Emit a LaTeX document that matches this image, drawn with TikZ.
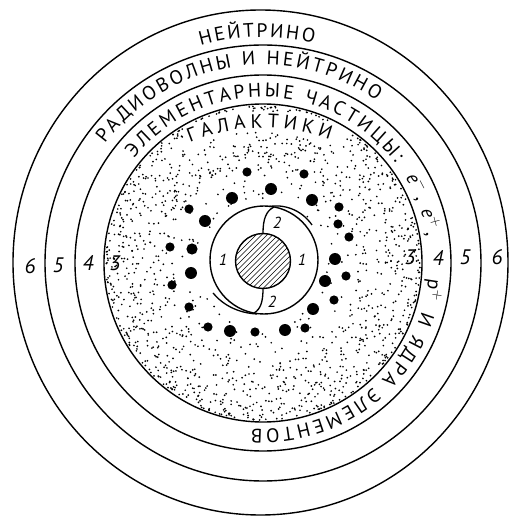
\documentclass[tikz,border=0pt]{standalone}
\usepackage{fontspec}
\setmainfont{PT Sans}
\usetikzlibrary{decorations.text}

\newcommand\bandfont{\fontsize{19.5}{19.5}\selectfont}

\begin{document}
\begin{tikzpicture}[
    x=1pt, y=1pt,
    shell/.style={draw, line width=1.4pt},
    arm/.style={draw, line width=1.3pt},
    hatch/.style={line width=0.6pt},
    lettering/.style={decorate, decoration={text along path, text align=fit to path, text={|\bandfont|#1}}},
    num/.style={font=\fontsize{21}{21}\selectfont\itshape, inner sep=0pt},
    smallnum/.style={font=\fontsize{16}{16}\selectfont\itshape, inner sep=0pt},
    grain/.style={fill=black},
]
  \useasboundingbox (-263,-256) rectangle (246,263);

  % stippled galaxy disk
  \pgfmathsetseed{1975}
  \foreach \i in {1,...,1500}{
    \pgfmathsetmacro\ang{360*rnd}
    \pgfmathsetmacro\u{rnd}
    \pgfmathsetmacro\rad{\i<1000 ? 157-60*\u^1.9 : 10*sqrt(6.4*6.4+\u*(15.7*15.7-6.4*6.4))}
    \pgfmathsetmacro\px{\rad*cos(\ang)}
    \pgfmathsetmacro\py{\rad*sin(\ang)}
    \pgfmathsetmacro\dd{veclen(\px,\py+60)}
    \pgfmathsetmacro\cut{(abs(\px)<80)*(\dd>191)*(\dd<212)}
    \ifdim\cut pt>0.5pt\else
      \fill[grain] (\px,\py) circle (0.95);
    \fi
  }

  % shells
  \draw[shell] (0,0) circle (159);
  \draw[shell] (0,0) circle (188);
  \draw[shell] (0,0) circle (218);
  \draw[shell] (-2.5,0.5) ellipse [x radius=247.5, y radius=252.5];

  % galaxies
  \foreach \x/\y/\r in {-16/91/4.6, 41/89/4.6, 8/74/6, -31/65/6, 49/63/6,
      -74/54/4.6, 76/56/4.6, -58/42/6, 75/39/4.6, 86/26/4.6, -93/16/4.6,
      -71/14/5.6, 72/4/6, -72/-10/6, 83/-13/4.6, 62/-18/6, -91/-22/4.6,
      71/-37/4.6, -74/-44/4.6, 50/-46/6, -55/-64/4.6, -33/-68/6, -8/-69/4.6,
      22/-67/6, 42/-65/4.6}
    \fill (\x,\y) circle (\r);

  % core and ring
  \begin{scope}
    \clip (0,2) circle (27.5);
    \foreach \k in {-66,-60.5,...,66}
      \draw[hatch] (\k-35,-33) -- (\k+35,37);
  \end{scope}
  \draw[shell] (0,2) circle (27.5);
  \draw[shell] (1,3) circle (54);

  % spiral arms
  \draw[arm] (0,29.5) .. controls (0,44) and (3,52) .. (11,56);
  \draw[arm] (6,56.5) .. controls (20,59) and (38,54) .. (49,38);
  \draw[arm] (0,-25.5) .. controls (0,-38) and (-2,-46) .. (-9,-50);
  \draw[arm] (-50,-30) .. controls (-40,-42) and (-25,-50) .. (-6,-51);

  % lettering
  \path[lettering={НЕЙТРИНО}] (106:226) arc[start angle=106, end angle=77, radius=226];
  \path[lettering={РАДИОВОЛНЫ И НЕЙТРИНО}] (143:198) arc[start angle=143, end angle=55, radius=198];
  \path[lettering={ЭЛЕМЕНТАРНЫЕ ЧАСТИЦЫ:}] (141:166) arc[start angle=141, end angle=37, radius=166];
  \path[lettering={{\itshape e$^{-}$}, {\itshape e$^{+}$},}] (31:166) arc[start angle=31, end angle=9, radius=166];
  \node[font=\bandfont, rotate=-99, anchor=base, inner sep=0pt] (pplus) at (-9:166) {p$^{+}$};
  \path[lettering={И ЯДРА ЭЛЕМЕНТОВ}] (-17:166) arc[start angle=-17, end angle=-94, radius=166];
  \path[lettering={ГАЛАКТИКИ}] ([shift={(0,-60)}]112:195) arc[start angle=112, end angle=70, radius=195];

  % zone numbers
  \node[num] (l6) at (-233,-3) {6};
  \node[num] (l5) at (-205,-2) {5};
  \node[num] (l4) at (-175,0) {4};
  \node[num] (l3) at (-148,0) {3};
  \node[num] (r3) at (147,6) {3};
  \node[num] (r4) at (175,5) {4};
  \node[num] (r5) at (202,6) {5};
  \node[num] (r6) at (234,6) {6};
  \node[smallnum] (c1l) at (-40,3) {1};
  \node[smallnum] (c1r) at (39,3) {1};
  \node[smallnum] (c2t) at (14,40) {2};
  \node[smallnum] (c2b) at (9,-39) {2};
\end{tikzpicture}
\end{document}
